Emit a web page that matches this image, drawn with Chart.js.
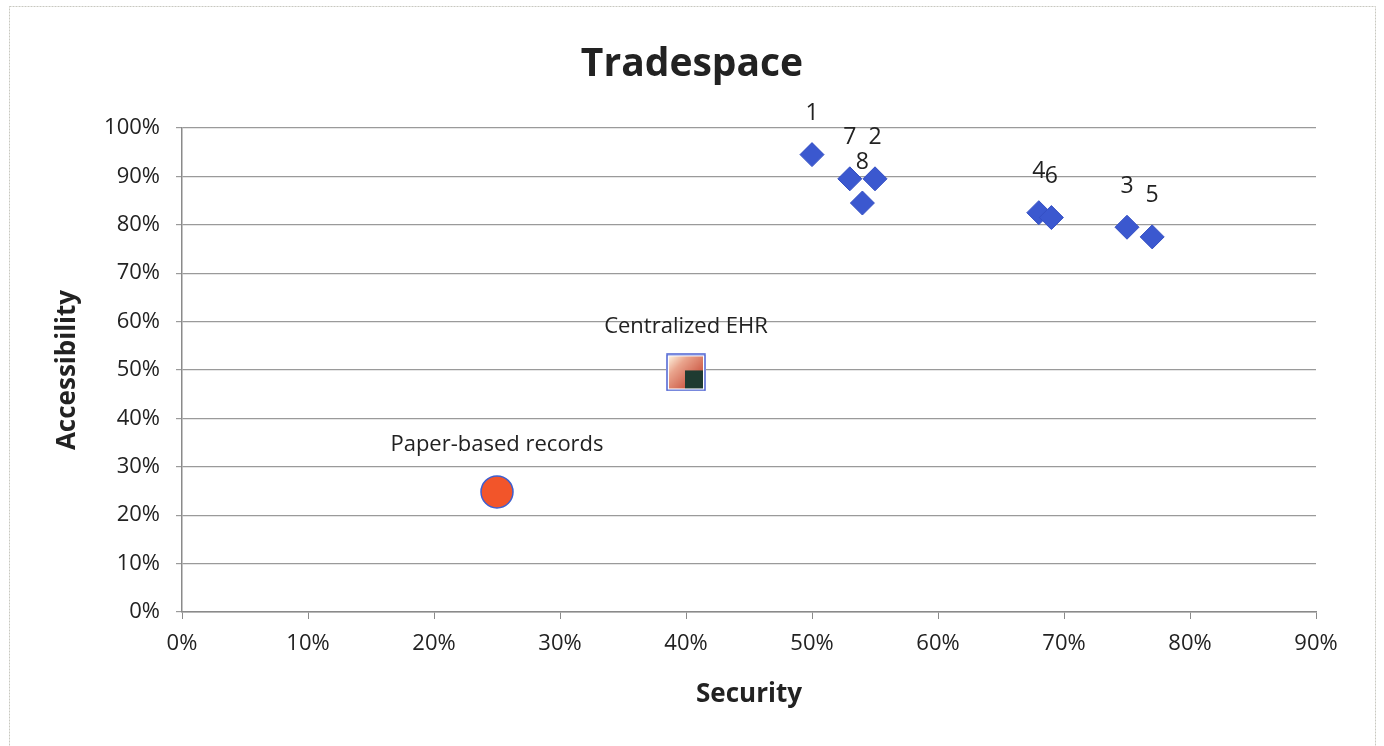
<!DOCTYPE html>
<html>
<head>
<meta charset="utf-8">
<script src="https://cdn.jsdelivr.net/npm/chart.js@4"></script>
<style>
    html, body { margin: 0; padding: 0; background: #fff; }
</style>
</head>
<body>
<canvas id="trade_chart" width="1384" height="746"></canvas>
<script>
const chartTitle = "Tradespace";

// Architecture options (numbered diamonds)
const optionLabels = ["1", "2", "3", "4", "5", "6", "7", "8"];
const optionSecurity = [50, 55, 75, 68, 77, 69, 53, 54];
const optionAccess = [94.5, 89.5, 79.5, 82.5, 77.5, 81.5, 89.5, 84.5];

// Reference points
const ehrLabel = ["Centralized EHR"];
const ehrSecurity = [40];
const ehrAccess = [49.5];

const paperLabel = ["Paper-based records"];
const paperSecurity = [25];
const paperAccess = [24.8];

// Axis ticks (percent)
const xTicks = [0, 10, 20, 30, 40, 50, 60, 70, 80, 90];
const yTicks = [0, 10, 20, 30, 40, 50, 60, 70, 80, 90, 100];

const FONT = "'Open Sans', sans-serif";

function toPoints(xs, ys) {
    return xs.map((x, i) => ({ x: x, y: ys[i] }));
}

// Little picture used as the EHR marker
function makeEhrIcon() {
    const c = document.createElement("canvas");
    c.width = 40;
    c.height = 38;
    const g = c.getContext("2d");
    g.fillStyle = "#fff";
    g.fillRect(0, 0, 40, 38);
    const grad = g.createLinearGradient(3, 3, 30, 30);
    grad.addColorStop(0, "#fdf0dc");
    grad.addColorStop(0.35, "#eaa58e");
    grad.addColorStop(1, "#c9503c");
    g.fillStyle = grad;
    g.fillRect(3, 3, 34, 32);
    g.fillStyle = "#1f3b31";
    g.fillRect(19, 17, 18, 18);
    g.strokeStyle = "#4c62d2";
    g.lineWidth = 1.5;
    g.strokeRect(1, 1, 38, 36);
    return c;
}

// White page, thin frame and the centred title
const framePlugin = {
    id: "frame",
    beforeDraw(chart) {
        const ctx = chart.ctx;
        ctx.save();
        ctx.fillStyle = "#fff";
        ctx.fillRect(0, 0, chart.width, chart.height);
        ctx.strokeStyle = "#c8c8c0";
        ctx.lineWidth = 1;
        ctx.setLineDash([2, 1]);
        ctx.strokeRect(9.5, 6.5, 1366, 760);
        ctx.setLineDash([]);
        ctx.fillStyle = "#222";
        ctx.font = "bold 39px " + FONT;
        ctx.textAlign = "center";
        ctx.textBaseline = "middle";
        ctx.fillText(chartTitle, chart.width / 2, 65);
        ctx.restore();
    }
};

// Text labels above each marker
const pointLabelPlugin = {
    id: "pointLabels",
    afterDatasetsDraw(chart) {
        const ctx = chart.ctx;
        ctx.save();
        ctx.fillStyle = "#222";
        ctx.textAlign = "center";
        ctx.textBaseline = "middle";
        chart.data.datasets.forEach((ds, di) => {
            const meta = chart.getDatasetMeta(di);
            ctx.font = ds.labelFont;
            meta.data.forEach((pt, i) => {
                ctx.fillText(ds.pointLabels[i], pt.x, pt.y - ds.labelOffset);
            });
        });
        ctx.restore();
    }
};

const ctx = document.getElementById("trade_chart").getContext("2d");
new Chart(ctx, {
    type: "scatter",
    data: {
        datasets: [
            {
                label: "Options",
                data: toPoints(optionSecurity, optionAccess),
                pointStyle: "rectRot",
                pointRadius: 12,
                pointHoverRadius: 12,
                backgroundColor: "#3b58cf",
                borderColor: "#3550c4",
                borderWidth: 1,
                pointLabels: optionLabels,
                labelFont: "23px " + FONT,
                labelOffset: 41
            },
            {
                label: "Centralized EHR",
                data: toPoints(ehrSecurity, ehrAccess),
                pointStyle: makeEhrIcon(),
                pointLabels: ehrLabel,
                labelFont: "22px " + FONT,
                labelOffset: 46
            },
            {
                label: "Paper-based records",
                data: toPoints(paperSecurity, paperAccess),
                pointStyle: "circle",
                pointRadius: 16,
                pointHoverRadius: 16,
                backgroundColor: "#f2552a",
                borderColor: "#3f5fcf",
                borderWidth: 1.5,
                pointLabels: paperLabel,
                labelFont: "22px " + FONT,
                labelOffset: 47
            }
        ]
    },
    options: {
        responsive: false,
        animation: false,
        layout: { padding: { left: 0, right: 68, top: 128, bottom: 0 } },
        plugins: {
            legend: { display: false },
            tooltip: { enabled: false },
            title: { display: false }
        },
        scales: {
            x: {
                type: "linear",
                min: 0,
                max: 90,
                afterFit: s => { s.height = 134; },
                afterBuildTicks: s => { s.ticks = xTicks.map(v => ({ value: v })); },
                ticks: {
                    color: "#222",
                    font: { family: FONT, size: 22 },
                    padding: 12,
                    callback: v => v + "%"
                },
                grid: {
                    drawOnChartArea: false,
                    drawTicks: true,
                    tickLength: 7,
                    color: "#8a8a8a"
                },
                border: { color: "#8a8a8a", width: 1.5 },
                title: {
                    display: true,
                    text: "Security",
                    color: "#222",
                    font: { family: FONT, size: 26, weight: "bold" },
                    padding: { top: 0, bottom: 36 }
                }
            },
            y: {
                type: "linear",
                min: 0,
                max: 100,
                afterFit: s => { s.width = 182; },
                afterBuildTicks: s => { s.ticks = yTicks.map(v => ({ value: v })); },
                ticks: {
                    color: "#222",
                    font: { family: FONT, size: 22 },
                    padding: 16,
                    callback: v => v + "%"
                },
                grid: {
                    color: "#9a9a9a",
                    lineWidth: 1.2,
                    tickLength: 6
                },
                border: { color: "#8a8a8a", width: 1.5 },
                title: {
                    display: true,
                    text: "Accessibility",
                    color: "#222",
                    font: { family: FONT, size: 26, weight: "bold" },
                    padding: { top: 52, bottom: 0 }
                }
            }
        }
    },
    plugins: [framePlugin, pointLabelPlugin]
});
</script>
</body>
</html>
